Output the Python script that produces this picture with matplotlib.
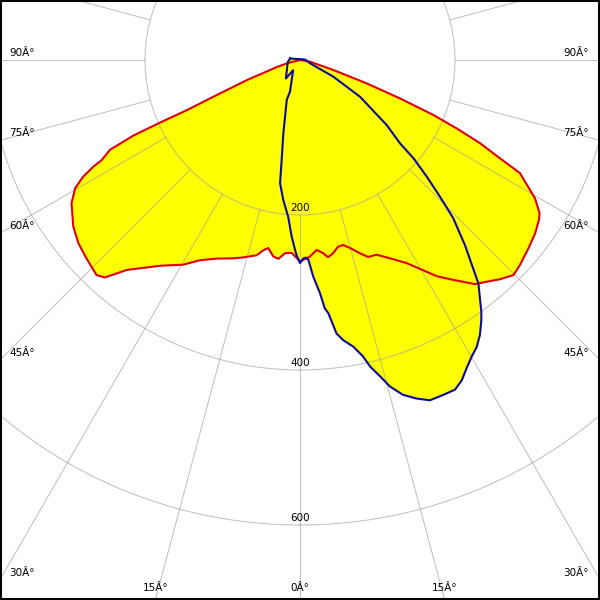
import numpy as np
import matplotlib
matplotlib.use("Agg")
import matplotlib.pyplot as plt

# polar light distribution, angles in degrees from nadir, intensities in cd
red_left_gamma = [0, 2.5, 4.4, 6.2, 7.7, 9.6, 10.9, 12.5, 16.0, 18.6, 22.8, 26.6, 29.7, 34.2,
                  39.5, 41.9, 43.4, 45.2, 47.8, 50.4, 53.7, 57.9, 60.3, 61.7, 62.7, 63.2, 64.7,
                  65.6, 65.9, 66.1, 67.0, 69.3, 73.1, 76.0, 90]
red_left_cd = [260, 249, 250, 258, 256, 246, 250, 258, 265, 270, 278, 289, 304, 321,
               351, 377, 382, 379, 375, 371, 363, 348, 334, 318, 300, 287, 271,
               236, 198, 159, 122, 73, 31, 16, 0]

red_right_gamma = [2.9, 5.0, 6.8, 8.1, 9.7, 11.5, 13.1, 14.9, 17.2, 19.1, 21.5, 24.4, 27.7,
                   29.9, 32.3, 34.9, 38.0, 40.1, 42.4, 44.8, 47.0, 50.5, 53.6, 56.2, 57.4,
                   59.5, 62.8, 63.8, 65.2, 66.4, 67.6, 69.0, 70.7, 73.3, 80.4, 90]
red_right_cd = [254, 246, 251, 257, 253, 246, 245, 251, 261, 269, 270, 281, 296,
                311, 330, 346, 367, 374, 383, 391, 388, 382, 377, 371, 367,
                352, 319, 288, 256, 221, 186, 138, 91, 45, 13, 0]

blue_left_gamma = [0, 1.0, 1.5, 2.7, 4.3, 6.8, 9.2, 10.4, 12.8, 18.4, 17.5, 33.8, 37.4, 80.5, 98.5]
blue_left_cd = [262, 252, 245, 228, 203, 182, 161, 131, 97, 54, 43, 16, 30, 16, 13]

blue_right_gamma = [1.0, 1.7, 2.4, 3.5, 4.9, 5.7, 6.4, 7.6, 8.8, 10.5, 12.0, 12.9, 14.2, 15.4,
                    17.1, 19.0, 20.9, 23.2, 25.2, 26.8, 28.4, 30.1, 31.6, 33.2, 34.9, 35.8,
                    36.9, 38.6, 40.0, 41.7, 44.1, 45.7, 47.4, 49.1, 50.2, 53.1, 58.5, 63.4,
                    71.7, 95.7]
blue_right_cd = [256, 255, 258, 280, 302, 322, 329, 356, 366, 376, 391, 406, 421, 437,
                 452, 462, 470, 470, 470, 463, 452, 442, 435, 424, 409, 400,
                 387, 369, 345, 320, 284, 252, 222, 194, 168, 140, 91, 48,
                 14, 6.5]

rings = [200, 400, 600]
ring_labels = ["200", "400", "600"]
spoke_angles = np.arange(-180, 181, 15)
side_label_angles = [90, 75, 60, 45, 30]
bottom_label_angles = [-15, 0, 15]


def to_xy(theta_deg, cd):
    t = np.radians(np.asarray(theta_deg, dtype=float))
    r = np.asarray(cd, dtype=float)
    return r * np.sin(t), -r * np.cos(t)


def loop(left_g, left_cd, right_g, right_cd):
    th = np.concatenate([-np.array(left_g)[::-1], np.array(right_g)])
    cd = np.concatenate([np.array(left_cd)[::-1], np.array(right_cd)])
    x, y = to_xy(th, cd)
    return np.append(x, x[0]), np.append(y, y[0])


k = 200 / 155.0  # cd per pixel
xmin, xmax = -300 * k, 300 * k
ymin, ymax = -540 * k, 60 * k

fig = plt.figure(figsize=(6, 6), dpi=100)
ax = fig.add_axes([0, 0, 1, 1])
ax.set_xlim(xmin, xmax)
ax.set_ylim(ymin, ymax)
ax.set_xticks([])
ax.set_yticks([])
for s in ax.spines.values():
    s.set_linewidth(2.9)
    s.set_color("black")

rx, ry = loop(red_left_gamma, red_left_cd, red_right_gamma, red_right_cd)
bx, by = loop(blue_left_gamma, blue_left_cd, blue_right_gamma, blue_right_cd)
ax.fill(rx, ry, color="#ffff00", lw=0, zorder=1)
ax.fill(bx, by, color="#ffff00", lw=0, zorder=1)

# grid
phi = np.linspace(0, 360, 721)
for r in rings:
    gx, gy = to_xy(phi, np.full_like(phi, r))
    ax.plot(gx, gy, color="#a0a0a0", lw=0.75, alpha=0.65, zorder=2)
for a in spoke_angles:
    sx, sy = to_xy([a, a], [200, 1200])
    ax.plot(sx, sy, color="#a0a0a0", lw=0.75, alpha=0.65, zorder=2)

ax.plot(rx, ry, color="#e00000", lw=1.5, zorder=3, solid_joinstyle="round")
ax.plot(bx, by, color="#0a0aa0", lw=1.5, zorder=4, solid_joinstyle="round")

fs = 7.5
for r, lab in zip(rings, ring_labels):
    ax.annotate(lab, (0, -r), xytext=(0, 7), textcoords="offset pixels",
                ha="center", va="center", fontsize=fs, zorder=5)

for g in side_label_angles:
    yh = -(xmax) / np.tan(np.radians(g)) if g != 90 else 0.0
    ax.annotate("%dÂ°" % g, (xmin, yh), xytext=(9, 7), textcoords="offset pixels",
                ha="left", va="center", fontsize=fs, zorder=5)
    ax.annotate("%dÂ°" % g, (xmax, yh), xytext=(-11, 7), textcoords="offset pixels",
                ha="right", va="center", fontsize=fs, zorder=5)

for g in bottom_label_angles:
    xh = -ymin * np.tan(np.radians(g))
    ax.annotate("%dÂ°" % abs(g), (xh, ymin), xytext=(0, 12), textcoords="offset pixels",
                ha="center", va="center", fontsize=fs, zorder=5)

fig.savefig("out.png", dpi=100, facecolor="white")
